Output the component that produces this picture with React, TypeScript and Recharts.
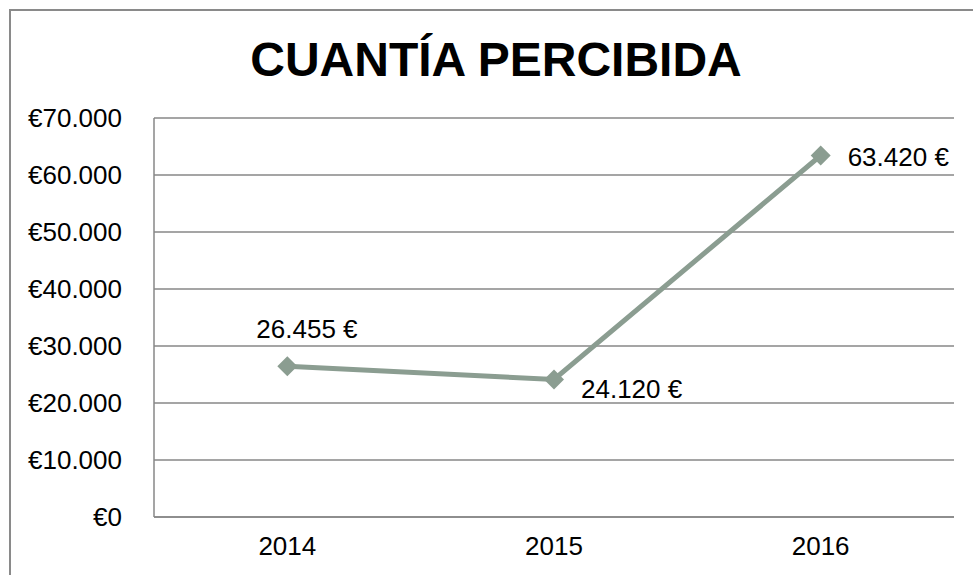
import { LineChart, Line, XAxis, YAxis, CartesianGrid, LabelList } from "recharts";

const years = ["2014", "2015", "2016"];
const amounts = [26455, 24120, 63420];
const yTicks = [0, 10000, 20000, 30000, 40000, 50000, 60000, 70000];

const data = years.map((year, i) => ({ year, amount: amounts[i] }));

const FONT = '"Liberation Sans", Arial, sans-serif';
const LINE_COLOR = "#8b9d91";
const GRID_COLOR = "#878787";

const withDots = (n: number) => String(n).replace(/\B(?=(\d{3})+(?!\d))/g, ".");

// label offsets relative to the point: [dx, dy] for text start / baseline
const labelOffsets: [number, number][] = [
  [-31, -28],
  [27, 18],
  [27, 10],
];

const Diamond = (props: any) => {
  const { cx, cy } = props;
  if (cx == null || cy == null) return null;
  const r = 10;
  return (
    <polygon
      points={`${cx},${cy - r} ${cx + r},${cy} ${cx},${cy + r} ${cx - r},${cy}`}
      fill={LINE_COLOR}
    />
  );
};

const ValueLabel = (props: any) => {
  const { x, y, value, index } = props;
  const [dx, dy] = labelOffsets[index] || [0, 0];
  return (
    <text x={x + dx} y={y + dy} fontSize={26} fontFamily={FONT} fill="#000" textAnchor="start">
      {withDots(value)} €
    </text>
  );
};

export default function App() {
  return (
    <div style={{ position: "absolute", left: 0, top: 0, width: 973, height: 575, overflow: "hidden", background: "#fff" }}>
      <div
        style={{
          position: "absolute",
          left: 9,
          top: 9,
          width: 1000,
          height: 600,
          border: "2px solid #8a8a8a",
        }}
      />
      <svg width={973} height={120} style={{ position: "absolute", left: 0, top: 0 }}>
        <text x={496} y={76} textAnchor="middle" fontFamily={FONT} fontWeight="bold" fontSize={48} fill="#000">
          CUANTÍA PERCIBIDA
        </text>
      </svg>
      <div style={{ position: "absolute", left: 0, top: 0 }}>
        <LineChart
          width={973}
          height={575}
          data={data}
          margin={{ top: 118, right: 19, bottom: 28, left: 10 }}
        >
          <CartesianGrid vertical={false} stroke={GRID_COLOR} strokeWidth={1.5} />
          <XAxis
            dataKey="year"
            height={30}
            padding={{ left: 133.33, right: 133.33 }}
            axisLine={{ stroke: GRID_COLOR, strokeWidth: 1.5 }}
            tickLine={false}
            tickSize={0}
            tickMargin={20}
            tick={{ fill: "#000", fontSize: 26, fontFamily: FONT }}
          />
          <YAxis
            width={144}
            domain={[0, 70000]}
            ticks={yTicks}
            interval={0}
            axisLine={{ stroke: GRID_COLOR, strokeWidth: 1.5 }}
            tickLine={false}
            tickSize={0}
            tickMargin={32}
            tick={{ fill: "#000", fontSize: 26, fontFamily: FONT }}
            tickFormatter={(v: number) => `€${withDots(v)}`}
          />
          <Line
            type="linear"
            dataKey="amount"
            stroke={LINE_COLOR}
            strokeWidth={5}
            dot={<Diamond />}
            activeDot={false}
            isAnimationActive={false}
          >
            <LabelList dataKey="amount" content={<ValueLabel />} />
          </Line>
        </LineChart>
      </div>
    </div>
  );
}
